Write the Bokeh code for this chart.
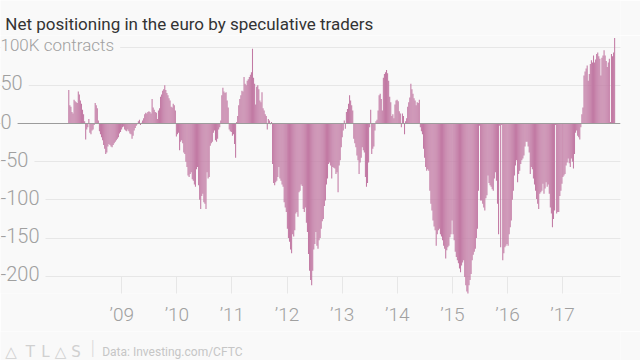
import pandas as pd
from bokeh.plotting import figure
from bokeh.layouts import column
from bokeh.models import Range1d, FixedTicker, Grid, Span, Label
from bokeh.core.properties import value
from bokeh.embed import file_html
from bokeh.resources import INLINE

# ---- data: weekly net speculative positioning in the euro, thousands of contracts ----
START_WEEK = "2008-01-15"
pos_2008_09 = [44, 24, 22, 15, 13, 31, 29, 28, 27, 42,
               38, 30, 26, 18, 12, 3, -21, -8, -5, 6,
               -12, -14, -9, -8, -2, 27, 24, 20, 4, -10,
               -14, -18, -22, -28, -33, -40, -38, -30, -27, -28,
               -30, -31, -28, -26, -24, -22, -20, -18, -13, -11,
               -8, -5, -4, -8, -9, -10, -8, -10, -13, -14,
               -20, -16, -9, -6, -3, -1, 3, 5, -2, 1,
               4, 7, 12, 14, 13, 15, 16, 15, 13, 32,
               21, 18, 15, 14, 6, 17, 20, 35, 38, 43,
               45, 50, 44, 40, 37, 33, 30, 22, 21, 26,
               24, 17]
pos_2010_11 = [-17, -14, -12, -35, -24, -22, -26, -38, -40, -50,
               -57, -68, -70, -66, -64, -73, -75, -80, -83, -60,
               -57, -81, -100, -112, -95, -92, -103, -105, -112, -64,
               -72, -70, -29, -26, -24, -12, -9, -22, -24, -20,
               -8, -5, 4, 37, 47, 42, 40, 41, 30, 21,
               -8, -10, -11, -16, -14, -27, -45, 2, 10, 24,
               32, 37, 43, 42, 61, 52, 50, 56, 58, 61,
               64, 67, 98, 60, 52, 25, 48, 50, 45, 30,
               28, 41, 20, 17, 12, 10, -8, 6, 4, -1,
               2, -53, -78, -81, -77, -75, -70, -57, -72, -75,
               -80, -83, -103, -110, -116]
pos_2012_13 = [-138, -150, -155, -165, -170, -145, -148, -140, -118, -116,
               -122, -90, -88, -80, -82, -112, -116, -110, -130, -142,
               -171, -193, -205, -212, -193, -165, -158, -142, -160, -164,
               -153, -150, -138, -128, -125, -108, -101, -80, -72, -53,
               -51, -55, -72, -57, -58, -59, -66, -64, -90, -55,
               -48, -31, -18, -9, 4, -7, 15, 19, 26, 37,
               30, 24, 17, -20, -26, -31, -42, -48, -66, -51,
               -45, -31, -35, -38, -70, -83, -78, -51, -5, 18,
               -40, -33, -30, -9, 3, 5, 17, 37, 39, 32,
               17, 60, 65, 67, 70, 66, 56, 35, 28, 10,
               12, 7, 25]
pos_2014_15 = [30, 31, 29, 16, 13, -5, 13, 10, -14, 3,
               7, 22, 28, 34, 52, 45, 39, 33, 30, 24,
               28, 27, 31, -5, -10, -14, -33, -45, -57, -62,
               -60, -62, -88, -105, -114, -127, -135, -140, -160, -145,
               -140, -138, -145, -148, -153, -160, -164, -177, -166, -162,
               -160, -149, -145, -127, -145, -153, -168, -175, -179, -183,
               -190, -195, -186, -182, -179, -201, -212, -220, -225, -212,
               -205, -197, -179, -172, -168, -164, -150, -138, -88, -3,
               -101, -101, -105, -110, -114, -98, -94, -68, -78, -81,
               -83, -86, -88, -72, -64, -75, -105, -145, -3, -162,
               -2, -179, -170, -162]
pos_2016_17 = [-160, -158, -160, -145, -136, -127, -100, -88, -68, -55,
               -48, -77, -66, -62, -53, -48, -46, -42, -30, -24,
               -24, -30, -38, -66, -57, -60, -72, -80, -88, -99,
               -105, -112, -92, -90, -88, -79, -92, -85, -77, -83,
               -80, -92, -110, -118, -136, -125, -114, -2, -118, -116,
               -116, -95, -88, -79, -70, -68, -66, -55, -51, -46,
               -52, -57, -46, -50, -59, -40, -12, -9, -16, -18,
               -21, -5, 12, 21, 63, 68, 72, 76, 56, 65,
               78, 83, 80, 89, 80, 84, 91, 93, 88, 85,
               63, 86, 89, 96, 89, 82, 74, 80, 85, 2,
               91, 88, 93, 112]

year_ticks = [2009, 2010, 2011, 2012, 2013, 2014, 2015, 2016, 2017]
year_labels = ["\u201909", "\u201910", "\u201911", "\u201912", "\u201913",
               "\u201914", "\u201915", "\u201916", "\u201917"]
y_ticks = [100, 50, 0, -50, -100, -150, -200]
y_tick_labels = ["100K contracts", "50", "0", "-50", "-100", "-150", "-200"]

TITLE = "Net positioning in the euro by speculative traders"
SOURCE = "Data: Investing.com/CFTC"
LOGO = ["\u25b3", "T", "L", "\u25b3", "S"]

# ---- styling ----
BG = "#f9f9f9"
BAR = "#c27aa4"
GRID = "#e7e7e7"
AXIS_TXT = "#a0a0a0"
LIGHT = "Roboto Light, Roboto"
W = 640


def blank(height, ymax):
    f = figure(width=W, height=height, output_backend="svg", toolbar_location=None,
               x_range=Range1d(0, W), y_range=Range1d(0, ymax),
               x_axis_location=None, y_axis_location=None, min_border=0,
               background_fill_color=BG, border_fill_color=BG, outline_line_color=None)
    f.xgrid.visible = False
    f.ygrid.visible = False
    return f


# ---- header with the title ----
head = blank(35, 35)
head.text(x=[5], y=[12], text=[TITLE], text_font=value("Roboto"), text_font_size=value("17px"),
          text_color="#333333", text_align="left", text_baseline="alphabetic")

# ---- main chart ----
values = pos_2008_09 + pos_2010_11 + pos_2012_13 + pos_2014_15 + pos_2016_17
dates = pd.date_range(START_WEEK, periods=len(values), freq="7D")
xs = list(dates.year + (dates.dayofyear - 1) / 365.25)

p = figure(width=W, height=296, output_backend="svg", toolbar_location=None,
           x_range=Range1d(2006.799, 2018.051), y_range=Range1d(-222.7, 115.3),
           y_axis_location=None, min_border_left=0, min_border_right=20,
           min_border_top=0, min_border_bottom=38,
           background_fill_color=BG, border_fill_color=BG, outline_line_color=None)
p.xgrid.visible = False
p.add_layout(Grid(dimension=1, ticker=FixedTicker(ticks=[t for t in y_ticks if t != 0]),
                  grid_line_color=GRID, grid_line_width=1))

p.vbar(x=xs, top=values, bottom=0, width=7 / 365.25, fill_color=BAR, line_color=None)

p.add_layout(Span(location=0, dimension="width", line_color="#9c9c9c", line_width=1))

ax = p.xaxis[0]
ax.ticker = FixedTicker(ticks=year_ticks)
ax.major_label_overrides = {float(k): v for k, v in zip(year_ticks, year_labels)}
ax.axis_line_color = None
ax.major_tick_in = 17
ax.major_tick_out = 0
ax.major_tick_line_color = GRID
ax.minor_tick_line_color = None
ax.major_label_standoff = 9
ax.major_label_text_font = LIGHT
ax.major_label_text_font_size = "19px"
ax.major_label_text_color = AXIS_TXT

for v, txt in zip(y_ticks, y_tick_labels):
    p.add_layout(Label(x=0, y=v, x_units="screen", y_units="data", text=txt,
                       text_align="left", text_baseline="middle",
                       text_font=LIGHT, text_font_size="17px" if v == 100 else "20px",
                       text_color=AXIS_TXT, background_fill_color=BG,
                       padding=(0, 6, 0, 5)))

# ---- footer ----
foot = blank(29, 29)
foot.text(x=[5, 26, 42, 56, 73], y=[9] * 5, text=LOGO, text_font=value("DejaVu Sans"),
          text_font_size=value("15px"), text_color="#d0d0d0",
          text_align="left", text_baseline="alphabetic")
foot.text(x=[93], y=[13], text=["|"], text_font=value("Roboto Light, Roboto"),
          text_font_size=value("20px"), text_color="#dcdcdc",
          text_align="left", text_baseline="middle")
foot.text(x=[105], y=[9], text=[SOURCE], text_font=value("Roboto"),
          text_font_size=value("12px"), text_color="#c6c6c6",
          text_align="left", text_baseline="alphabetic")

layout = column(head, p, foot)
open("out.html", "w").write(file_html(layout, INLINE))
